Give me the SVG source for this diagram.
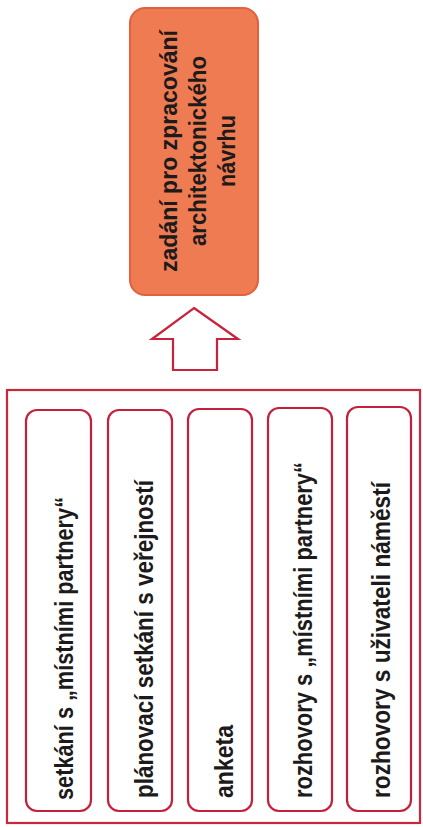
<svg xmlns="http://www.w3.org/2000/svg" width="423" height="827" viewBox="0 0 423 827">
<style>
.t{font-family:"Liberation Sans",Arial,sans-serif;font-weight:bold;fill:#1c1a1a}
.bt{font-size:26px}
.ot{font-size:24.5px;text-anchor:middle}
.box{fill:#fff;stroke:#c41f3c;stroke-width:2.2}
</style>
<rect width="423" height="827" fill="#fff"/>
<g id="target">
<rect x="130" y="8" width="128" height="287" rx="15" fill="#ef7b53" stroke="#e2603d" stroke-width="2"/>
<text class="t ot" transform="translate(177,151) rotate(-90)" textLength="242" lengthAdjust="spacingAndGlyphs">zadání pro zpracování</text>
<text class="t ot" transform="translate(206,151) rotate(-90)" textLength="190" lengthAdjust="spacingAndGlyphs">architektonického</text>
<text class="t ot" transform="translate(235,151) rotate(-90)" textLength="72" lengthAdjust="spacingAndGlyphs">návrhu</text>
</g>
<g id="connectors">
<polygon points="194,308 238,339 217,339 217,370 173,370 173,339 152,339" fill="#fff" stroke="#c8233a" stroke-width="2.2" stroke-linejoin="miter"/>
</g>
<g id="container">
<rect x="7" y="390" width="413" height="433" fill="none" stroke="#c8283c" stroke-width="2.2"/>
</g>
<g id="n1">
<rect class="box" x="26" y="410" width="65" height="401" rx="11"/>
<text class="t bt" transform="translate(73,800) rotate(-90)" textLength="303" lengthAdjust="spacingAndGlyphs">setkání s „místními partnery“</text>
</g>
<g id="n2">
<rect class="box" x="108" y="410" width="64" height="401" rx="11"/>
<text class="t bt" transform="translate(153,798) rotate(-90)" textLength="318" lengthAdjust="spacingAndGlyphs">plánovací setkání s veřejností</text>
</g>
<g id="n3">
<rect class="box" x="188" y="409" width="64" height="402" rx="11"/>
<text class="t bt" transform="translate(233,798) rotate(-90)" textLength="73" lengthAdjust="spacingAndGlyphs">anketa</text>
</g>
<g id="n4">
<rect class="box" x="268" y="408" width="64" height="403" rx="11"/>
<text class="t bt" transform="translate(312,798) rotate(-90)" textLength="336" lengthAdjust="spacingAndGlyphs">rozhovory s „místními partnery“</text>
</g>
<g id="n5">
<rect class="box" x="347" y="407" width="64" height="404" rx="11"/>
<text class="t bt" transform="translate(390,798) rotate(-90)" textLength="316" lengthAdjust="spacingAndGlyphs">rozhovory s uživateli náměstí</text>
</g>
</svg>
